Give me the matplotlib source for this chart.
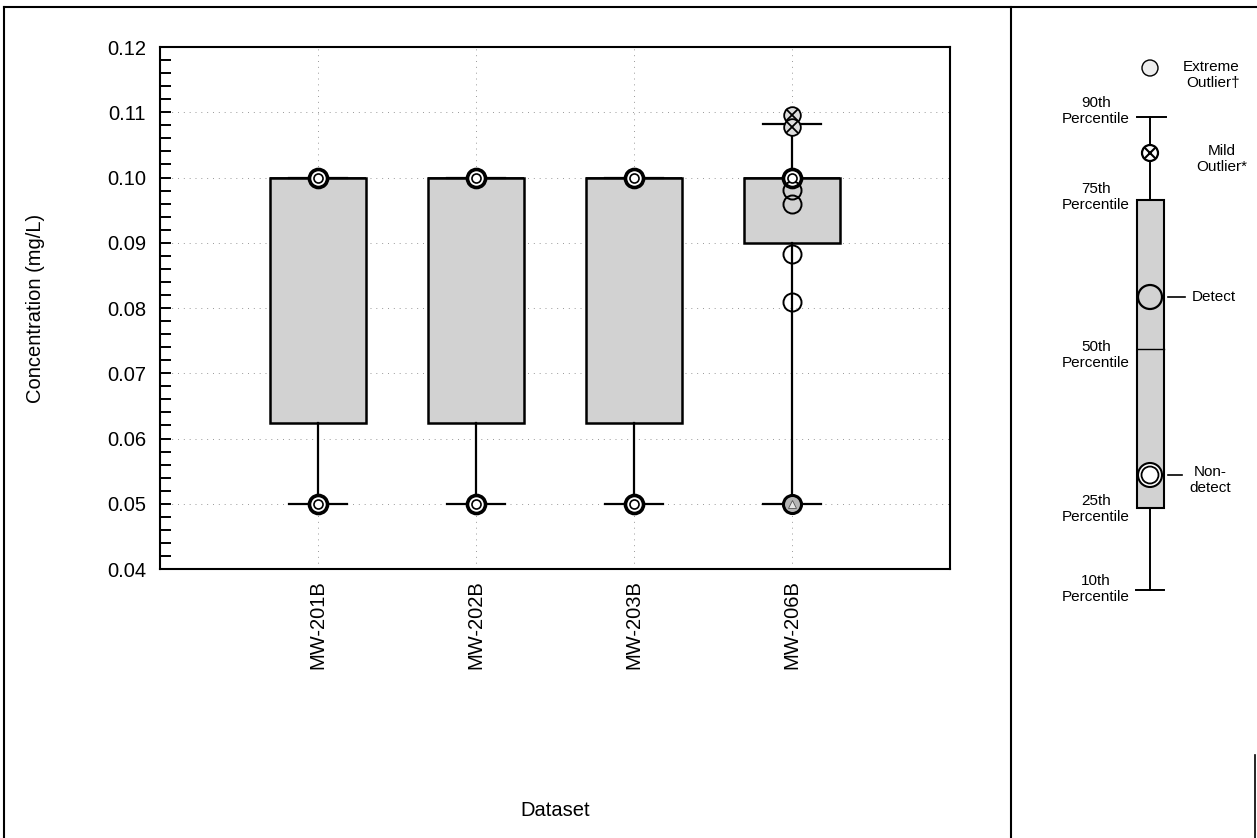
import matplotlib
matplotlib.use("Agg")
import matplotlib.pyplot as plt
from matplotlib.patches import Rectangle, Circle
import numpy as np

plt.rcParams['font.family'] = ['Liberation Sans', 'DejaVu Sans']

# ---------------- data ----------------
stations = ["MW-201B", "MW-202B", "MW-203B", "MW-206B"]
q1 = [0.0624, 0.0624, 0.0624, 0.090]
q3 = [0.100, 0.100, 0.100, 0.100]
med = [0.100, 0.100, 0.100, 0.100]
p10 = [0.050, 0.050, 0.050, 0.050]
p90 = [0.100, 0.100, 0.100, 0.1082]

# non-detects (double circles)
nd_x = ["MW-201B", "MW-201B", "MW-202B", "MW-202B", "MW-203B", "MW-203B", "MW-206B"]
nd_y = [0.100, 0.050, 0.100, 0.050, 0.100, 0.050, 0.100]
# detects (open circles)
det_x = ["MW-206B", "MW-206B", "MW-206B", "MW-206B"]
det_y = [0.0981, 0.0959, 0.0883, 0.0809]
# mild outliers (crossed circles)
mild_x = ["MW-206B", "MW-206B"]
mild_y = [0.1096, 0.1078]
# extreme outlier (shaded)
ext_x = ["MW-206B"]
ext_y = [0.050]

yticks = [0.04, 0.05, 0.06, 0.07, 0.08, 0.09, 0.10, 0.11, 0.12]

# ---------------- figure ----------------
W, H = 1257, 838
fig = plt.figure(figsize=(W / 100, H / 100), dpi=100)
ax = fig.add_axes([160 / W, 1 - 569 / H, (950 - 160) / W, (569 - 47) / H])

pos = np.arange(1, len(stations) + 1)
xmap = {s: p for s, p in zip(stations, pos)}

stats = []
for i, s in enumerate(stations):
    stats.append(dict(label=s, q1=q1[i], q3=q3[i], med=med[i],
                      whislo=p10[i], whishi=p90[i], fliers=[]))

ax.bxp(stats, positions=pos, widths=0.61, capwidths=0.37, patch_artist=True,
       showfliers=False,
       boxprops=dict(facecolor='#d2d2d2', edgecolor='black', linewidth=1.8),
       medianprops=dict(color='black', linewidth=1.2),
       whiskerprops=dict(color='black', linewidth=1.6),
       capprops=dict(color='black', linewidth=1.6))

# grid
for y in yticks[1:-1]:
    ax.axhline(y, color='#999999', lw=0.7, ls=(0, (1, 5)), zorder=0)
for p in pos:
    ax.axvline(p, color='#999999', lw=0.7, ls=(0, (1, 5)), zorder=0)

# markers
ndx = [xmap[s] for s in nd_x]
ax.plot(ndx, nd_y, 'o', ms=13, mfc='white', mec='black', mew=2.6, ls='none', zorder=5)
ax.plot(ndx, nd_y, 'o', ms=6.5, mfc='white', mec='black', mew=1.2, ls='none', zorder=6)

dx = [xmap[s] for s in det_x]
ax.plot(dx, det_y, 'o', ms=13, mfc='none', mec='black', mew=1.4, ls='none', zorder=5)

mx = [xmap[s] for s in mild_x]
ax.plot(mx, mild_y, 'o', ms=12, mfc='#dddddd', mec='black', mew=1.3, ls='none', zorder=5)
ax.plot(mx, mild_y, 'x', ms=8, mec='black', mew=1.3, ls='none', zorder=6)

ex = [xmap[s] for s in ext_x]
ax.plot(ex, ext_y, 'o', ms=13, mfc='#b5b5b5', mec='black', mew=2.2, ls='none', zorder=5)
ax.plot(ex, ext_y, '^', ms=6, mfc='#e6e6e6', mec='#555555', mew=0.6, ls='none', zorder=6)

ax.set_xlim(0, 5)
ax.set_ylim(0.04, 0.12)
ax.set_yticks(yticks)
ax.set_yticklabels([f"{v:.2f}" for v in yticks])
ax.set_yticks(np.arange(0.04, 0.1201, 0.002), minor=True)
ax.tick_params(axis='y', which='both', direction='in', length=8, width=1.4, labelsize=14.5, pad=10)
ax.set_xticks(pos)
ax.set_xticklabels(stations, rotation=90, fontsize=14.5)
ax.tick_params(axis='x', length=0, pad=8)
for sp in ax.spines.values():
    sp.set_linewidth(1.5)
ax.set_ylabel("Concentration (mg/L)", fontsize=14.5)
ax.set_xlabel("Dataset", fontsize=14.5)
ax.xaxis.set_label_coords(0.5, -0.445)
ax.yaxis.set_label_coords(-0.145, 0.5)

# ---------------- frame & legend panel (pixel coordinates) ----------------
lg = fig.add_axes([0, 0, 1, 1], zorder=-1)
lg.set_xlim(0, W)
lg.set_ylim(H, 0)
lg.axis('off')
lg.plot([4, 1256], [7, 7], color='black', lw=1.5)
lg.plot([4, 4], [7, 838], color='black', lw=1.5)
lg.plot([1011, 1011], [7, 838], color='black', lw=1.5)
lg.plot([1255, 1255], [755, 838], color='black', lw=1.2)

lg2 = fig.add_axes([0, 0, 1, 1], zorder=2)
lg2.set_xlim(0, W)
lg2.set_ylim(H, 0)
lg2.axis('off')

cx = 1150
# whisker
lg2.plot([cx, cx], [117, 590], color='black', lw=1.4, zorder=1)
lg2.plot([1137, 1166], [117, 117], color='black', lw=1.4)
lg2.plot([1136, 1164], [590, 590], color='black', lw=1.4)
# box
lg2.add_patch(Rectangle((1137, 200), 27, 308, facecolor='#d2d2d2', edgecolor='black', lw=1.5, zorder=2))
lg2.plot([1137, 1164], [349, 349], color='black', lw=1.0, zorder=3)
# extreme outlier symbol
lg2.add_patch(Circle((cx, 68), 8, facecolor='#eeeeee', edgecolor='black', lw=1.0, zorder=4))
lg2.plot([cx], [68], marker='^', ms=6, mfc='none', mec='#666666', mew=0.6, ls=(0, (1, 1)))
# mild outlier
lg2.add_patch(Circle((cx, 153), 8, facecolor='white', edgecolor='black', lw=1.6, zorder=4))
lg2.plot([cx], [153], marker='x', ms=8, mec='black', mew=1.5, zorder=5)
# detect
lg2.add_patch(Circle((cx, 297), 12, facecolor='#d2d2d2', edgecolor='black', lw=1.6, zorder=4))
lg2.plot([1168, 1185], [297, 297], color='black', lw=1.2)
# non-detect
lg2.add_patch(Circle((cx, 475), 12, facecolor='white', edgecolor='black', lw=1.5, zorder=4))
lg2.add_patch(Circle((cx, 475), 8.5, facecolor='white', edgecolor='black', lw=1.3, zorder=5))
lg2.plot([1168, 1182], [475, 475], color='black', lw=1.2)

fs = 11
lg2.text(1240, 75, "Extreme\nOutlier\u2020", ha='right', va='center', fontsize=fs, linespacing=1.1)
lg2.text(1222, 159, "Mild\nOutlier*", ha='center', va='center', fontsize=fs, linespacing=1.1)
lg2.text(1192, 297, "Detect", ha='left', va='center', fontsize=fs)
lg2.text(1210, 480, "Non-\ndetect", ha='center', va='center', fontsize=fs, linespacing=1.1)
for yy, lab in [(111, "90th"), (197, "75th"), (355, "50th"), (509, "25th"), (589, "10th")]:
    lg2.text(1096, yy, lab + "\nPercentile", ha='center', va='center', fontsize=fs, linespacing=1.1)

fig.savefig("out.png", dpi=100)
